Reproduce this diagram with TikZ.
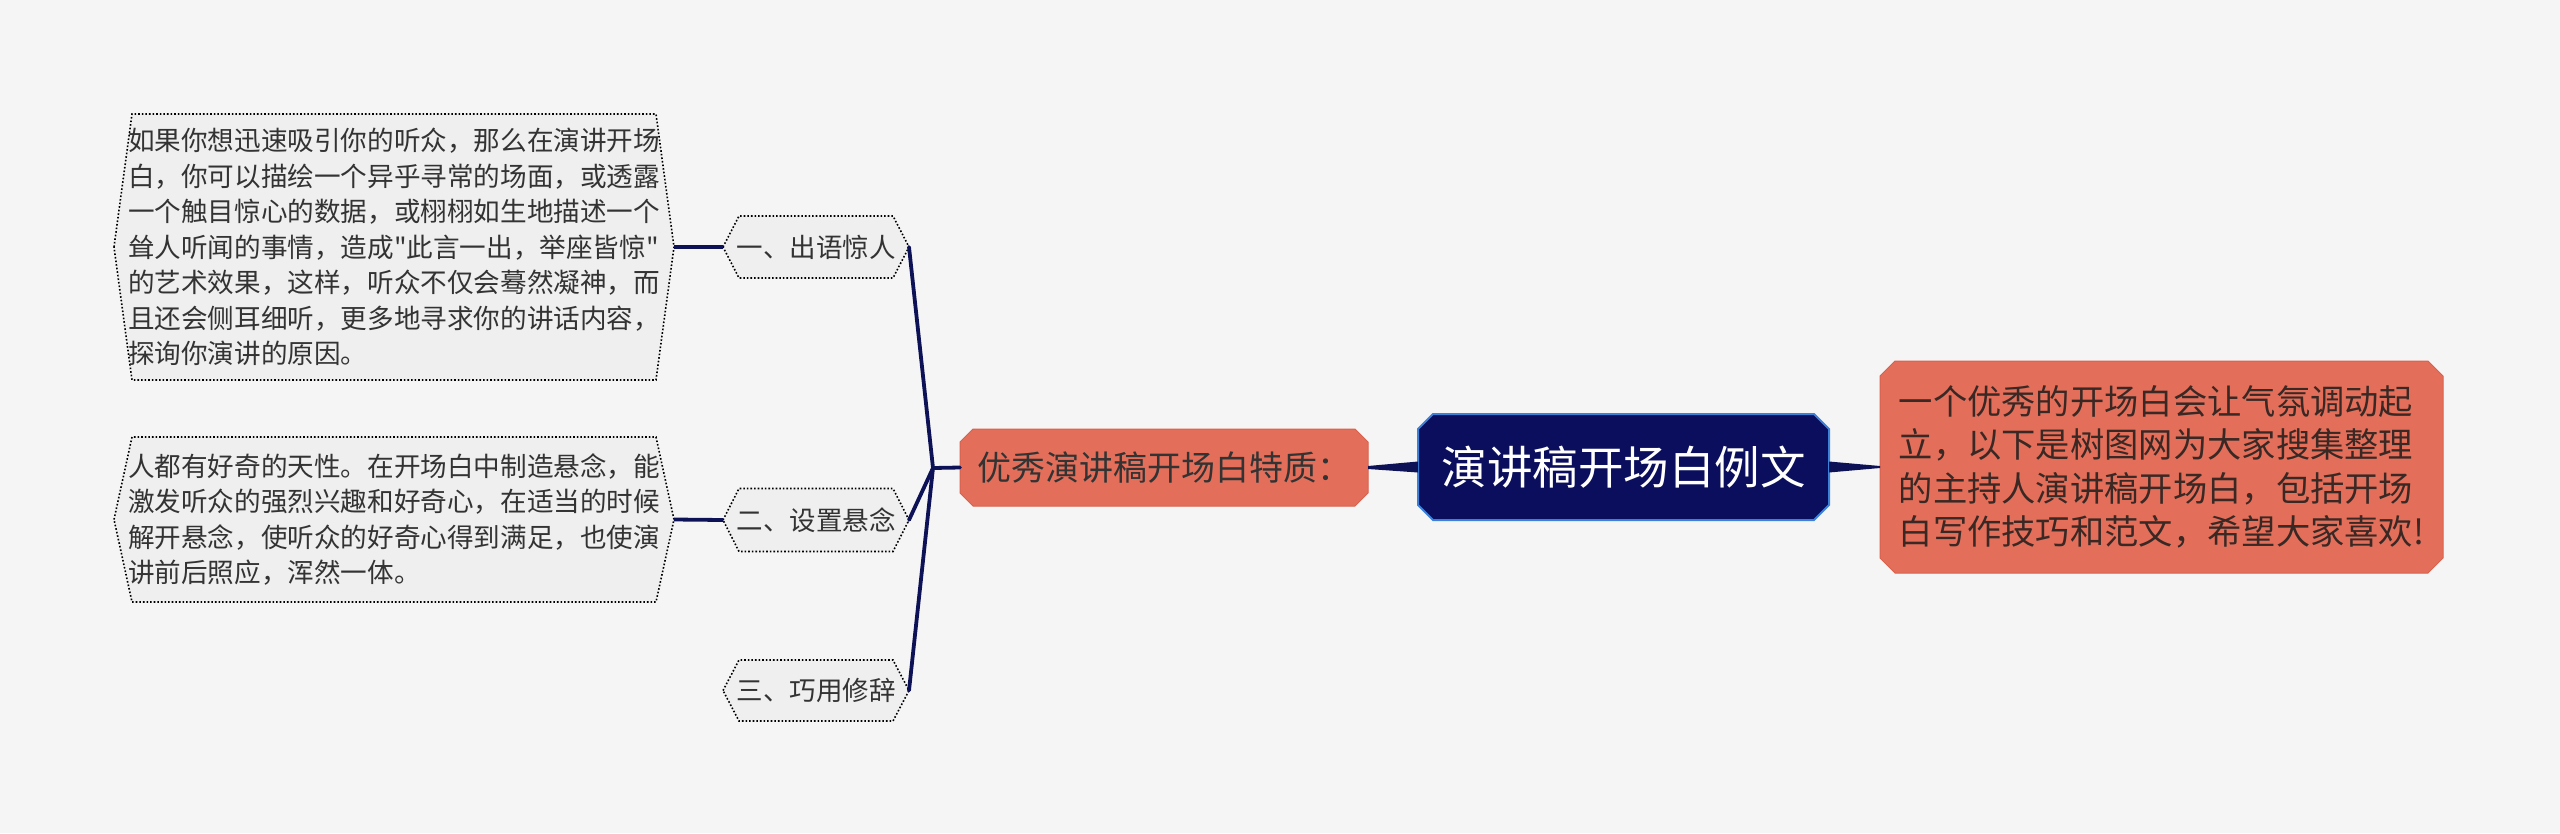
\documentclass[tikz,border=0pt]{standalone}
\usepackage{fontspec}
\setmainfont{Noto Sans CJK SC}[Ligatures=TeXOff]
\usetikzlibrary{calc,backgrounds}
\definecolor{bgc}{HTML}{F5F5F5}
\definecolor{salmon}{HTML}{E36F5B}
\definecolor{salmonline}{HTML}{D9614D}
\definecolor{rootfill}{HTML}{0A0E5C}
\definecolor{rootline}{HTML}{3C80DA}
\definecolor{navy}{HTML}{0D1257}
\definecolor{leaffill}{HTML}{EFEFEF}
\definecolor{darktext}{HTML}{333333}
\definecolor{salmontext}{HTML}{3A2824}
\newcommand\hexfill[2]{%
  \path[hexshape] (#1.west) -- ($(#1.north west)+(#2,0)$) -- ($(#1.north east)+(-#2,0)$)
    -- (#1.east) -- ($(#1.south east)+(-#2,0)$) -- ($(#1.south west)+(#2,0)$) -- cycle;}
\newcommand\chamfill[3]{%
  \path[#3] ($(#1.north west)+(#2,0)$) -- ($(#1.north east)+(-#2,0)$) -- ($(#1.north east)+(0,#2)$)
    -- ($(#1.south east)+(0,-#2)$) -- ($(#1.south east)+(-#2,0)$) -- ($(#1.south west)+(#2,0)$)
    -- ($(#1.south west)+(0,-#2)$) -- ($(#1.north west)+(0,#2)$) -- cycle;}
\begin{document}
\begin{tikzpicture}[x=1pt,y=-1pt,
  every node/.style={inner sep=0pt,outer sep=0pt},
  hexshape/.style={fill=leaffill,draw=black,dotted,line width=1.6pt},
  salmonshape/.style={fill=salmon,draw=salmonline,line width=1pt},
  rootshape/.style={fill=rootfill,draw=rootline,line width=2pt},
  leafnode/.style={align=left,text=darktext,font=\fontsize{26.6}{35.5}\selectfont},
  subnode/.style={minimum width=186pt,text=darktext,font=\fontsize{26.5}{30}\selectfont},
  link/.style={draw=navy,line width=3.8pt},
  taper/.style={fill=navy}]
\path[use as bounding box] (0,0) rectangle (2560,833);
\node[leafnode,minimum width=560pt,minimum height=266pt] (leafA) at (394,247)
 {如果你想迅速吸引你的听众，那么在演讲开场\\白，你可以描绘一个异乎寻常的场面，或透露\\一个触目惊心的数据，或栩栩如生地描述一个\\耸人听闻的事情，造成"此言一出，举座皆惊"\\的艺术效果，这样，听众不仅会蓦然凝神，而\\且还会侧耳细听，更多地寻求你的讲话内容，\\探询你演讲的原因。};
\node[leafnode,minimum width=560pt,minimum height=165pt] (leafB) at (394,519.5)
 {人都有好奇的天性。在开场白中制造悬念，能\\激发听众的强烈兴趣和好奇心，在适当的时候\\解开悬念，使听众的好奇心得到满足，也使演\\讲前后照应，浑然一体。};
\node[subnode,minimum height=62pt] (subA) at (816,247) {一、出语惊人};
\node[subnode,minimum height=63pt] (subB) at (816,520) {二、设置悬念};
\node[subnode,minimum height=61pt] (subC) at (816,690.5) {三、巧用修辞};
\node[minimum width=408pt,minimum height=77pt,text=darktext,font=\fontsize{34}{38}\selectfont] (mid) at (1164,467.5) {优秀演讲稿开场白特质：};
\node[minimum width=411pt,minimum height=106pt,text=white,font=\fontsize{45.5}{50}\selectfont] (root) at (1623.5,467) {演讲稿开场白例文};
\node[minimum width=563pt,minimum height=212pt,align=left,text=salmontext,font=\fontsize{34.3}{43.5}\selectfont] (intro) at (2161.5,467)
 {一个优秀的开场白会让气氛调动起\\立，以下是树图网为大家搜集整理\\的主持人演讲稿开场白，包括开场\\白写作技巧和范文，希望大家喜欢!};
\coordinate (junc) at (933,468);
\begin{pgfonlayer}{background}
\fill[bgc] (0,0) rectangle (2560,833);
\hexfill{leafA}{18}
\hexfill{leafB}{18}
\hexfill{subA}{16}
\hexfill{subB}{16}
\hexfill{subC}{16}
\chamfill{mid}{13}{salmonshape}
\chamfill{root}{15}{rootshape}
\chamfill{intro}{15}{salmonshape}
\end{pgfonlayer}
\draw[link] (leafA.east) -- (subA.west);
\draw[link] (leafB.east) -- (subB.west);
\draw[link,line cap=round] (mid.west) -- (junc);
\draw[link,line cap=round] (junc) -- (subA.east);
\draw[link,line cap=round] (junc) -- (subB.east);
\draw[link,line cap=round] (junc) -- (subC.east);
\fill[taper] ($(root.east)+(0,-5.5)$) -- ($(intro.west)+(0,-1)$) -- ($(intro.west)+(0,1)$) -- ($(root.east)+(0,5.5)$) -- cycle;
\fill[taper] ($(root.west)+(0,-5.5)$) -- ($(mid.east)+(0,-1.5)$) -- ($(mid.east)+(0,1.5)$) -- ($(root.west)+(0,5.5)$) -- cycle;
\end{tikzpicture}
\end{document}
